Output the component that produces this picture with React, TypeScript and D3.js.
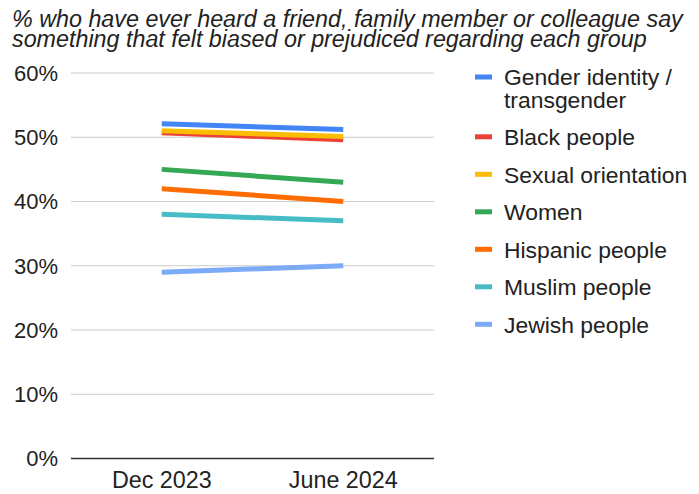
import React from "react";
import * as d3 from "d3";

const periods = ["Dec 2023", "June 2024"];
const seriesNames = [
  "Gender identity / transgender",
  "Black people",
  "Sexual orientation",
  "Women",
  "Hispanic people",
  "Muslim people",
  "Jewish people",
];
const legendLines = [
  ["Gender identity /", "transgender"],
  ["Black people"],
  ["Sexual orientation"],
  ["Women"],
  ["Hispanic people"],
  ["Muslim people"],
  ["Jewish people"],
];
const genderValues = [52.1, 51.2];
const blackValues = [50.7, 49.6];
const sexualValues = [51.0, 50.1];
const womenValues = [45, 43];
const hispanicValues = [42, 40];
const muslimValues = [38, 37];
const jewishValues = [29, 30];
const allValues = [genderValues, blackValues, sexualValues, womenValues, hispanicValues, muslimValues, jewishValues];
const colors = ["#4285F4", "#EA4335", "#FBBC04", "#34A853", "#FF6D01", "#46BDC6", "#7BAAF7"];
const yTicks = [0, 10, 20, 30, 40, 50, 60];
const titleLines = [
  "% who have ever heard a friend, family member or colleague say",
  "something that felt biased or prejudiced regarding each group",
];

const W = 699;
const H = 494;
const plotLeft = 71;
const plotRight = 434;
const plotTop = 73;
const plotBottom = 458.5;
const font = "'Liberation Sans', Arial, Helvetica, sans-serif";

export default function App() {
  const x = d3.scaleBand<string>().domain(periods).range([plotLeft, plotRight]).padding(0);
  const y = d3.scaleLinear().domain([0, 60]).range([plotBottom, plotTop]);
  const line = d3
    .line<number>()
    .x((_, i) => (x(periods[i]) as number) + x.bandwidth() / 2)
    .y((v) => y(v));

  let legendY = 77;
  const legendItems = legendLines.map((lines, i) => {
    const item = { lines, y: legendY, color: colors[i], name: seriesNames[i] };
    legendY += 22.3 * (lines.length - 1) + 37.5;
    return item;
  });

  return (
    <svg
      width={W}
      height={H}
      style={{ position: "absolute", left: 0, top: 0, background: "#fff" }}
      fontFamily={font}
    >
      <rect x={0} y={0} width={W} height={H} fill="#fff" />
      {titleLines.map((t, i) => (
        <text key={i} x={12} y={26.5 + i * 20.5} fontSize={23.3} fontStyle="italic" fill="#222">
          {t}
        </text>
      ))}
      {yTicks.map((t) => (
        <g key={t}>
          <line
            x1={plotLeft}
            x2={plotRight}
            y1={y(t)}
            y2={y(t)}
            stroke={t === 0 ? "#333" : "#ccc"}
            strokeWidth={t === 0 ? 1.3 : 1}
          />
          <text x={58} y={y(t)} dy="0.36em" textAnchor="end" fontSize={22} fill="#222">
            {t}%
          </text>
        </g>
      ))}
      {periods.map((p) => (
        <text
          key={p}
          x={(x(p) as number) + x.bandwidth() / 2}
          y={488}
          textAnchor="middle"
          fontSize={23.3}
          fill="#222"
        >
          {p}
        </text>
      ))}
      {allValues.map((vals, i) => (
        <path key={i} d={line(vals) || ""} fill="none" stroke={colors[i]} strokeWidth={5} />
      ))}
      {legendItems.map((it, i) => (
        <g key={i}>
          <rect x={475} y={it.y - 2.5} width={17} height={5} fill={it.color} />
          {it.lines.map((l, j) => (
            <text key={j} x={504} y={it.y + j * 22.3} dy="0.36em" fontSize={22.9} fill="#222">
              {l}
            </text>
          ))}
        </g>
      ))}
    </svg>
  );
}
